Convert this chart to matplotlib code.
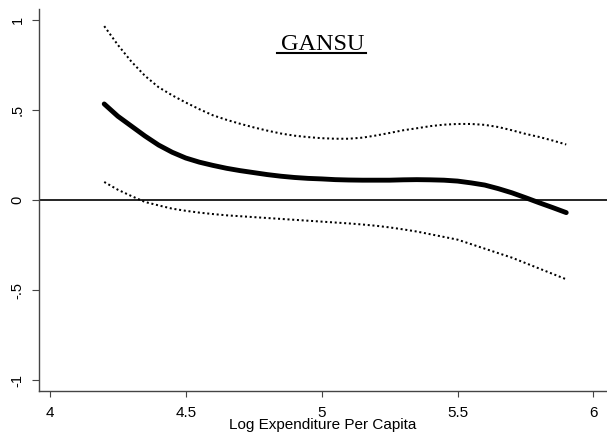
import matplotlib
matplotlib.use("Agg")
import matplotlib.pyplot as plt

x_vals = [4.20, 4.25, 4.30, 4.35, 4.40, 4.45, 4.50, 4.55, 4.60, 4.65, 4.70, 4.75,
          4.80, 4.85, 4.90, 4.95, 5.00, 5.05, 5.10, 5.15, 5.20, 5.25, 5.30, 5.35,
          5.40, 5.45, 5.50, 5.55, 5.60, 5.65, 5.70, 5.75, 5.80, 5.85, 5.90]
estimate = [0.533, 0.465, 0.410, 0.355, 0.305, 0.265, 0.233, 0.210, 0.192, 0.176, 0.163, 0.152,
            0.141, 0.132, 0.125, 0.120, 0.117, 0.113, 0.111, 0.110, 0.110, 0.110, 0.112, 0.113,
            0.112, 0.110, 0.105, 0.095, 0.083, 0.063, 0.040, 0.013, -0.015, -0.042, -0.070]
upper = [0.965, 0.861, 0.768, 0.689, 0.626, 0.581, 0.541, 0.504, 0.470, 0.445, 0.423, 0.403,
         0.385, 0.369, 0.357, 0.349, 0.343, 0.340, 0.340, 0.346, 0.358, 0.372, 0.387, 0.398,
         0.410, 0.418, 0.422, 0.422, 0.417, 0.405, 0.387, 0.367, 0.350, 0.330, 0.308]
lower = [0.100, 0.057, 0.022, -0.011, -0.030, -0.048, -0.060, -0.070, -0.078, -0.085, -0.090, -0.095,
         -0.100, -0.105, -0.110, -0.115, -0.120, -0.125, -0.130, -0.136, -0.143, -0.152, -0.163, -0.175,
         -0.190, -0.205, -0.220, -0.245, -0.270, -0.295, -0.320, -0.350, -0.380, -0.410, -0.440]
x_ticks = [4, 4.5, 5, 5.5, 6]
x_ticklabels = ["4", "4.5", "5", "5.5", "6"]
y_ticks = [-1, -0.5, 0, 0.5, 1]
y_ticklabels = ["-1", "-.5", "0", ".5", "1"]
title_text = "GANSU"
xlabel_text = "Log Expenditure Per Capita"

fig = plt.figure(figsize=(6.07, 4.36), dpi=100)
ax = fig.add_axes([39/607, 45/436, 568/607, 382/436])
ax.set_xlim(3.96, 6.05)
ax.set_ylim(-1.06, 1.06)

ax.axhline(0, color="black", lw=1.2, zorder=1)

dot_style = dict(color="black", lw=1.45, linestyle=(0, (1, 1.35)))
ax.plot(x_vals, upper, **dot_style)
ax.plot(x_vals, lower, **dot_style)
ax.plot(x_vals, estimate, color="black", lw=3.5, solid_capstyle="round",
        solid_joinstyle="round", zorder=3)

for s in ["top", "right"]:
    ax.spines[s].set_visible(False)
for s in ["left", "bottom"]:
    ax.spines[s].set_color("#444444")
    ax.spines[s].set_linewidth(1.0)

ax.set_xticks(x_ticks)
ax.set_xticklabels(x_ticklabels, family="Liberation Sans", fontsize=11)
ax.set_yticks(y_ticks)
ax.set_yticklabels(y_ticklabels, family="Liberation Sans", fontsize=10.5,
                   rotation=90, va="center")
ax.tick_params(axis="x", length=4.2, width=0.8, color="#444444", pad=6.5)
ax.tick_params(axis="y", length=5, width=0.8, color="#444444", pad=5.5)

ax.set_xlabel(xlabel_text, family="Liberation Sans", fontsize=11, labelpad=-1)

ax.text(0.5, 1 - (50 - 9) / 382, title_text, transform=ax.transAxes, ha="center",
        va="baseline", family="Liberation Serif", fontsize=17.5)
fig.add_artist(plt.Line2D([277/607, 366/607], [1 - 53.5/436, 1 - 53.5/436],
                          color="black", lw=1.5, transform=fig.transFigure))

fig.savefig("out.png", dpi=100)
